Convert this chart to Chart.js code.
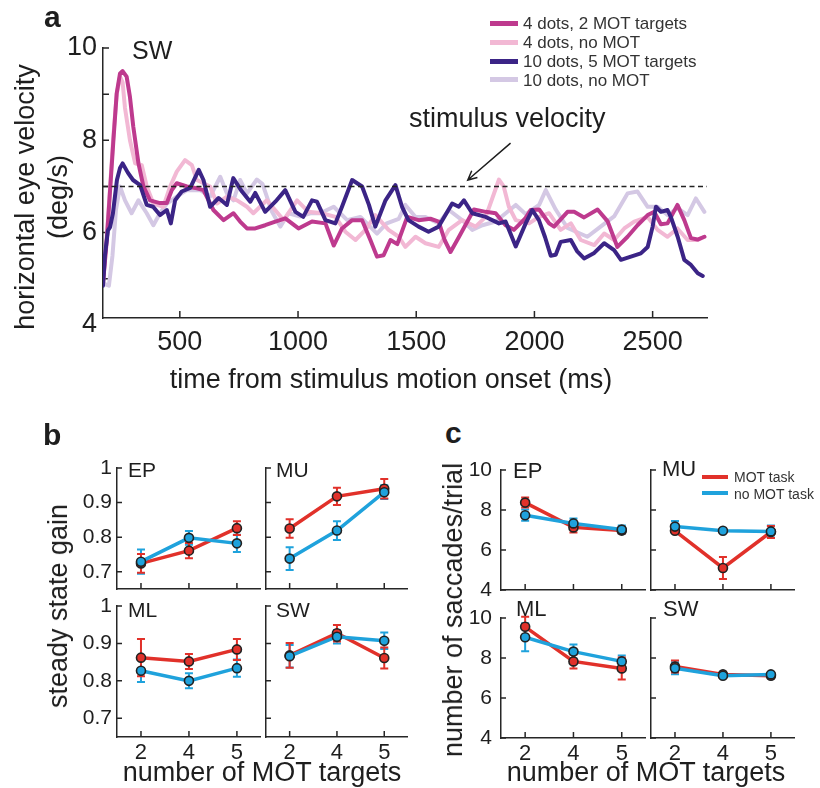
<!DOCTYPE html>
<html>
<head>
<meta charset="utf-8">
<script src="https://cdn.jsdelivr.net/npm/chart.js@4.4.1/dist/chart.umd.min.js"></script>
<style>
  html, body { margin: 0; padding: 0; background: #fff; }
  #fig { position: relative; width: 820px; height: 788px; overflow: hidden;
         font-family: "Liberation Sans", Arial, Helvetica, sans-serif; color: #1e1e1e; }
  #fig canvas { position: absolute; }
  .t { position: absolute; white-space: pre; line-height: 1; }
  .sw { position: absolute; }
</style>
</head>
<body>
<div id="fig"></div>
<script>
// ---- panel a: horizontal eye velocity traces, subject SW (time ms, deg/s) ----
const T_MIN = 175, T_MAX = 2730;
const STIM_VELOCITY = 7;
const timeTicks = [500, 1000, 1500, 2000, 2500];
const velTicks = [4, 5, 6, 7, 8, 9, 10];

const trace4dots2MOT = [[175,4.9],[191,5.84],[205,6.92],[219,8.0],[233,9.02],[247,9.45],[258,9.5],[275,9.38],[289,8.94],[303,8.3],[325,7.5],[346,7.0],[374,6.7],[416,6.64],[445,6.64],[466,6.92],[487,7.07],[530,7.0],[572,6.96],[600,6.92],[642,6.49],[685,6.27],[727,6.42],[755,6.24],[784,6.09],[819,6.09],[861,6.16],[904,6.24],[946,6.31],[1002,6.09],[1059,6.24],[1116,6.2],[1151,5.72],[1186,6.09],[1229,6.27],[1271,6.27],[1306,5.84],[1334,5.48],[1362,5.51],[1391,5.84],[1420,5.75],[1462,6.34],[1510,6.27],[1560,6.3],[1595,6.24],[1620,5.84],[1645,5.58],[1680,5.9],[1744,6.5],[1794,6.45],[1836,6.42],[1878,6.16],[1913,6.06],[1960,6.3],[1984,6.49],[2020,6.5],[2062,6.2],[2083,6.13],[2140,6.45],[2168,6.45],[2210,6.33],[2267,6.5],[2309,6.25],[2351,5.69],[2394,5.91],[2436,6.16],[2479,6.38],[2507,6.45],[2535,6.18],[2563,6.2],[2605,6.6],[2634,6.27],[2662,5.88],[2690,5.85],[2719,5.91]];

const trace4dotsNoMOT = [[175,4.9],[191,5.9],[205,7.0],[219,8.1],[233,9.0],[247,9.38],[258,9.25],[268,8.7],[289,8.0],[311,7.5],[339,7.46],[360,7.0],[388,6.63],[430,6.56],[459,7.0],[487,7.32],[522,7.57],[551,7.46],[572,7.14],[628,7.0],[657,6.63],[699,6.78],[742,6.7],[784,6.56],[811,6.42],[868,6.7],[939,6.27],[996,6.7],[1044,6.45],[1101,6.42],[1158,6.34],[1200,6.02],[1243,5.84],[1285,6.06],[1327,6.38],[1383,6.06],[1426,5.91],[1454,5.69],[1497,5.91],[1539,5.77],[1595,5.69],[1638,6.06],[1694,6.27],[1751,6.13],[1794,6.34],[1850,7.15],[1870,7.0],[1892,6.56],[1921,6.27],[1977,6.2],[2020,6.34],[2062,6.42],[2111,6.06],[2154,6.2],[2196,5.84],[2253,5.73],[2295,5.98],[2337,5.84],[2380,6.09],[2422,6.24],[2479,6.34],[2521,6.06],[2563,5.91],[2605,6.09],[2648,5.84],[2691,5.84],[2719,5.91]];

const trace10dots5MOT = [[175,4.85],[183,5.5],[196,6.05],[205,6.12],[217,6.42],[234,7.14],[247,7.4],[258,7.5],[280,7.3],[302,7.14],[332,7.03],[360,6.6],[387,6.56],[416,6.38],[445,6.49],[462,6.2],[480,6.7],[508,6.89],[544,6.97],[580,7.36],[600,7.14],[628,6.56],[664,6.75],[699,6.6],[726,7.18],[763,6.89],[798,6.67],[819,6.86],[861,6.45],[904,6.67],[946,6.92],[989,6.45],[1022,6.34],[1059,6.7],[1080,6.67],[1116,6.27],[1158,6.2],[1186,6.56],[1229,7.14],[1271,7.0],[1300,6.6],[1327,6.13],[1370,6.7],[1412,7.03],[1440,6.56],[1467,6.27],[1510,6.13],[1552,6.02],[1595,6.13],[1652,6.63],[1680,6.56],[1702,6.7],[1737,6.42],[1794,6.34],[1850,6.2],[1878,6.24],[1921,5.7],[1963,6.2],[1991,6.49],[2019,6.27],[2045,5.9],[2069,5.5],[2090,5.52],[2111,5.8],[2154,5.84],[2180,5.6],[2210,5.44],[2253,5.56],[2295,5.77],[2337,5.62],[2366,5.41],[2408,5.48],[2450,5.55],[2479,5.69],[2500,6.13],[2514,6.56],[2535,6.45],[2563,6.49],[2577,6.34],[2606,5.91],[2634,5.41],[2662,5.3],[2691,5.12],[2712,5.06]];

const trace10dotsNoMOT = [[175,4.9],[200,4.85],[215,5.5],[230,6.5],[247,7.0],[268,6.7],[296,6.42],[325,6.7],[360,6.42],[388,6.16],[416,6.42],[445,6.63],[487,6.78],[530,6.92],[586,6.92],[628,6.78],[671,7.21],[699,6.85],[727,6.7],[755,7.14],[784,6.85],[826,7.15],[850,7.05],[890,6.45],[925,6.13],[960,6.42],[1010,6.35],[1052,6.42],[1094,6.42],[1151,6.56],[1208,6.27],[1264,6.34],[1334,5.98],[1375,6.2],[1426,6.3],[1454,6.6],[1497,6.34],[1539,6.34],[1595,6.2],[1638,6.49],[1694,6.27],[1737,6.06],[1780,6.16],[1836,6.24],[1921,6.6],[1963,6.4],[2020,6.6],[2048,6.92],[2090,6.5],[2140,6.1],[2224,5.91],[2280,6.13],[2337,6.35],[2394,6.85],[2436,6.89],[2479,6.56],[2521,6.56],[2563,6.38],[2605,6.53],[2648,6.38],[2683,6.74],[2719,6.45]];

// ---- panels b, c: per subject, MOT task vs no MOT task ----
const motTargets = ['2', '4', '5'];
const gainTicks = [0.7, 0.8, 0.9, 1];
const saccTicks = [4, 6, 8, 10];

const gainEP_mot = [0.724, 0.761, 0.826], gainEP_motErr = [0.027, 0.022, 0.02];
const gainEP_no  = [0.729, 0.798, 0.782], gainEP_noErr  = [0.035, 0.02, 0.025];
const gainMU_mot = [0.825, 0.918, 0.94],  gainMU_motErr = [0.027, 0.025, 0.028];
const gainMU_no  = [0.738, 0.819, 0.93],  gainMU_noErr  = [0.033, 0.027, 0.02];
const gainML_mot = [0.862, 0.852, 0.884], gainML_motErr = [0.05, 0.02, 0.028];
const gainML_no  = [0.827, 0.8, 0.834],   gainML_noErr  = [0.03, 0.02, 0.023];
const gainSW_mot = [0.868, 0.927, 0.861], gainSW_motErr = [0.033, 0.022, 0.028];
const gainSW_no  = [0.866, 0.918, 0.907], gainSW_noErr  = [0.03, 0.018, 0.022];

const saccEP_mot = [8.37, 7.13, 6.97], saccEP_motErr = [0.25, 0.25, 0.15];
const saccEP_no  = [7.74, 7.33, 7.02], saccEP_noErr  = [0.28, 0.25, 0.2];
const saccMU_mot = [6.96, 5.1, 6.9],   saccMU_motErr = [0.1, 0.55, 0.3];
const saccMU_no  = [7.17, 6.96, 6.93], saccMU_noErr  = [0.28, 0.08, 0.3];
const saccML_mot = [9.56, 7.83, 7.48], saccML_motErr = [0.5, 0.35, 0.55];
const saccML_no  = [9.04, 8.32, 7.83], saccML_noErr  = [0.7, 0.35, 0.3];
const saccSW_mot = [7.57, 7.18, 7.11], saccSW_motErr = [0.3, 0.13, 0.13];
const saccSW_no  = [7.49, 7.11, 7.18], saccSW_noErr  = [0.3, 0.08, 0.1];

// ---- styling ----
const AXIS = '#262626';
const NAVY = '#3b2486', MAGENTA = '#be3a8e', PINK = '#f2b8d4', LAVENDER = '#d4c8e4';
const RED = '#e1312a', BLUE = '#1fa2dc';

const fig = document.getElementById('fig');
Chart.defaults.font.family = '"Liberation Sans", Arial, Helvetica, sans-serif';
Chart.defaults.color = '#1e1e1e';

// MATLAB-style inward tick marks
const inTicks = {
  id: 'inTicks',
  beforeDatasetsDraw(chart, args, o) {
    const { ctx, chartArea: a } = chart;
    const { x, y } = chart.scales;
    ctx.save();
    ctx.strokeStyle = AXIS;
    ctx.lineWidth = 1.5;
    ctx.beginPath();
    x.ticks.forEach((t, i) => {
      const px = x.getPixelForTick(i);
      if (px < a.left - 0.5 || px > a.right + 0.5) return;
      ctx.moveTo(px, a.bottom);
      ctx.lineTo(px, a.bottom - o.x);
    });
    y.ticks.forEach((t, i) => {
      const py = y.getPixelForTick(i);
      if (py < a.top - 0.5 || py > a.bottom + 0.5) return;
      ctx.moveTo(a.left, py);
      ctx.lineTo(a.left + o.y, py);
    });
    ctx.stroke();
    ctx.restore();
  },
};

// vertical error bars with caps, value +/- err through the y scale
const errBars = {
  id: 'errBars',
  beforeDatasetsDraw(chart) {
    const ctx = chart.ctx, ys = chart.scales.y;
    chart.data.datasets.forEach((ds, di) => {
      if (!ds.errorBars) return;
      const meta = chart.getDatasetMeta(di);
      ctx.save();
      ctx.strokeStyle = ds.borderColor;
      ctx.lineWidth = 2;
      ctx.beginPath();
      meta.data.forEach((pt, i) => {
        const lo = ys.getPixelForValue(ds.data[i] - ds.errorBars[i]);
        const hi = ys.getPixelForValue(ds.data[i] + ds.errorBars[i]);
        ctx.moveTo(pt.x, lo); ctx.lineTo(pt.x, hi);
        ctx.moveTo(pt.x - 4, lo); ctx.lineTo(pt.x + 4, lo);
        ctx.moveTo(pt.x - 4, hi); ctx.lineTo(pt.x + 4, hi);
      });
      ctx.stroke();
      ctx.restore();
    });
  },
};

// annotation arrow in data coordinates
const arrow = {
  id: 'arrow',
  afterDatasetsDraw(chart, args, o) {
    if (!o.from) return;
    const { ctx } = chart;
    const { x, y } = chart.scales;
    const x1 = x.getPixelForValue(o.from[0]), y1 = y.getPixelForValue(o.from[1]);
    const x2 = x.getPixelForValue(o.to[0]), y2 = y.getPixelForValue(o.to[1]);
    const ang = Math.atan2(y2 - y1, x2 - x1), h = 10;
    ctx.save();
    ctx.strokeStyle = '#1e1e1e';
    ctx.lineWidth = 1.5;
    ctx.beginPath();
    ctx.moveTo(x1, y1); ctx.lineTo(x2, y2);
    ctx.moveTo(x2 - h * Math.cos(ang - 0.45), y2 - h * Math.sin(ang - 0.45));
    ctx.lineTo(x2, y2);
    ctx.lineTo(x2 - h * Math.cos(ang + 0.45), y2 - h * Math.sin(ang + 0.45));
    ctx.stroke();
    ctx.restore();
  },
};

// canvas placed so that the chart area lands on [l, t, r, b]
function addChart(box, cfg) {
  const [l, t, r, b] = box.area;
  const c = document.createElement('canvas');
  c.width = r - l + box.yw + box.pr;
  c.height = b - t + box.pt + box.xh;
  c.style.left = (l - box.yw) + 'px';
  c.style.top = (t - box.pt) + 'px';
  fig.appendChild(c);
  const o = cfg.options;
  o.responsive = false;
  o.animation = false;
  o.events = [];
  o.layout = { padding: { left: 0, top: box.pt, right: box.pr, bottom: 0 } };
  o.scales.x.afterFit = (s) => { s.height = box.xh; s.paddingLeft = 0; s.paddingRight = 0; };
  o.scales.y.afterFit = (s) => { s.width = box.yw; s.paddingTop = 0; s.paddingBottom = 0; };
  cfg.plugins = [inTicks, errBars, arrow];
  return new Chart(c, cfg);
}

const fixTicks = (vals) => (s) => { s.ticks = vals.map((v) => ({ value: v })); };
const plainGrid = { display: false, drawTicks: false };
const axisBorder = { display: true, color: AXIS, width: 1.5 };

// ---- panel a ----
const trace = (pairs, color) => ({
  data: pairs.map(([x, y]) => ({ x, y })),
  borderColor: color, borderWidth: 4, pointRadius: 0, tension: 0,
  borderJoinStyle: 'round', borderCapStyle: 'round',
});

addChart({ area: [103, 48, 707, 318], yw: 103, xh: 50, pt: 48, pr: 113 }, {
  type: 'line',
  data: {
    datasets: [
      { data: [{ x: T_MIN, y: STIM_VELOCITY }, { x: T_MAX, y: STIM_VELOCITY }],
        borderColor: '#222', borderWidth: 1.6, borderDash: [5, 3.5], pointRadius: 0 },
      trace(trace10dots5MOT, NAVY),
      trace(trace4dots2MOT, MAGENTA),
      trace(trace4dotsNoMOT, PINK),
      trace(trace10dotsNoMOT, LAVENDER),
    ],
  },
  options: {
    plugins: {
      legend: { display: false }, tooltip: { enabled: false },
      inTicks: { x: 7, y: 6 },
      arrow: { from: [1899, 7.94], to: [1718, 7.14] },
    },
    scales: {
      x: { type: 'linear', min: T_MIN, max: T_MAX, afterBuildTicks: fixTicks(timeTicks),
           ticks: { font: { size: 27 }, padding: 8, maxRotation: 0, autoSkip: false, callback: (v) => String(v) },
           grid: plainGrid, border: axisBorder },
      y: { type: 'linear', min: 4.15, max: 10, afterBuildTicks: fixTicks(velTicks),
           ticks: { font: { size: 27 }, padding: 6, autoSkip: false, callback: (v) => (v % 2 === 0 ? String(v) : '') },
           grid: plainGrid, border: axisBorder },
    },
  },
});

// ---- panels b and c: small multiples ----
function subplot(area, spec) {
  const bottomRow = spec.xLabels;
  addChart({ area, yw: 48, xh: bottomRow ? 36 : 12, pt: 16, pr: 4 }, {
    type: 'line',
    data: {
      labels: motTargets,
      datasets: [
        { data: spec.no, errorBars: spec.noErr, borderColor: BLUE, backgroundColor: BLUE,
          borderWidth: 3.5, pointRadius: 4.5, pointBorderWidth: 1.6, pointBorderColor: '#222',
          pointBackgroundColor: BLUE, tension: 0 },
        { data: spec.mot, errorBars: spec.motErr, borderColor: RED, backgroundColor: RED,
          borderWidth: 3.5, pointRadius: 4.5, pointBorderWidth: 1.6, pointBorderColor: '#222',
          pointBackgroundColor: RED, tension: 0 },
      ],
    },
    options: {
      plugins: { legend: { display: false }, tooltip: { enabled: false }, inTicks: { x: 6, y: 5 } },
      scales: {
        x: { type: 'category', offset: true,
             ticks: { display: bottomRow, font: { size: 22 }, padding: 3, maxRotation: 0, autoSkip: false },
             grid: plainGrid, border: axisBorder },
        y: { type: 'linear', min: spec.min, max: spec.max, afterBuildTicks: fixTicks(spec.ticks),
             ticks: { display: spec.yLabels, font: { size: 21 }, padding: spec.pad, autoSkip: false,
                      callback: (v) => String(+v.toFixed(2)) },
             grid: plainGrid, border: axisBorder },
      },
    },
  });
}

const gainAxis = { min: 0.65, max: 1.0, ticks: gainTicks, pad: 5 };
const saccAxis = { min: 4, max: 10, ticks: saccTicks, pad: 9 };

subplot([117, 468, 263, 589], { ...gainAxis, mot: gainEP_mot, motErr: gainEP_motErr, no: gainEP_no, noErr: gainEP_noErr, yLabels: true, xLabels: false });
subplot([266, 468, 410, 589], { ...gainAxis, mot: gainMU_mot, motErr: gainMU_motErr, no: gainMU_no, noErr: gainMU_noErr, yLabels: false, xLabels: false });
subplot([117, 606, 263, 737], { ...gainAxis, mot: gainML_mot, motErr: gainML_motErr, no: gainML_no, noErr: gainML_noErr, yLabels: true, xLabels: true });
subplot([266, 606, 410, 737], { ...gainAxis, mot: gainSW_mot, motErr: gainSW_motErr, no: gainSW_no, noErr: gainSW_noErr, yLabels: false, xLabels: true });

subplot([501, 470, 648, 590], { ...saccAxis, mot: saccEP_mot, motErr: saccEP_motErr, no: saccEP_no, noErr: saccEP_noErr, yLabels: true, xLabels: false });
subplot([651, 470, 797, 590], { ...saccAxis, mot: saccMU_mot, motErr: saccMU_motErr, no: saccMU_no, noErr: saccMU_noErr, yLabels: false, xLabels: false });
subplot([501, 618, 648, 738], { ...saccAxis, mot: saccML_mot, motErr: saccML_motErr, no: saccML_no, noErr: saccML_noErr, yLabels: true, xLabels: true });
subplot([651, 618, 797, 738], { ...saccAxis, mot: saccSW_mot, motErr: saccSW_motErr, no: saccSW_no, noErr: saccSW_noErr, yLabels: false, xLabels: true });

// ---- text: labels, titles, legends ----
function text(s, x, base, size, opt = {}) {
  const d = document.createElement('div');
  d.className = 't';
  d.textContent = s;
  d.style.fontSize = size + 'px';
  d.style.left = x + 'px';
  d.style.top = (base - 0.8465 * size) + 'px';
  if (opt.bold) d.style.fontWeight = 'bold';
  if (opt.center) d.style.transform = 'translateX(-50%)';
  if (opt.color) d.style.color = opt.color;
  fig.appendChild(d);
}
function vtext(lines, cx, cy, size, lh) {
  const d = document.createElement('div');
  d.className = 't';
  d.textContent = lines.join('\n');
  d.style.cssText += `font-size:${size}px;line-height:${lh}px;text-align:center;left:${cx}px;top:${cy}px;` +
    'transform:translate(-50%,-50%) rotate(-90deg);';
  fig.appendChild(d);
}
function swatch(x, cy, w, h, color) {
  const d = document.createElement('div');
  d.className = 'sw';
  d.style.cssText += `left:${x}px;top:${cy - h / 2}px;width:${w}px;height:${h}px;background:${color};`;
  fig.appendChild(d);
}

text('a', 44, 27, 30, { bold: true });
text('SW', 132, 59, 25);
text('stimulus velocity', 409, 128, 27);
text('time from stimulus motion onset (ms)', 391, 389, 27, { center: true });
vtext(['horizontal eye velocity', '(deg/s)'], 42, 197, 27, 33);

const legendA = [
  ['4 dots, 2 MOT targets', MAGENTA],
  ['4 dots, no MOT', PINK],
  ['10 dots, 5 MOT targets', NAVY],
  ['10 dots, no MOT', LAVENDER],
];
legendA.forEach(([label, color], i) => {
  const cy = 23.5 + i * 18.8;
  swatch(490, cy, 28, 5, color);
  text(label, 523, cy + 6, 17, { color: '#333' });
});

text('b', 43, 445, 30, { bold: true });
vtext(['steady state gain'], 58, 606, 27, 30);
text('number of MOT targets', 262, 782, 27, { center: true });
text('EP', 128, 477, 21); text('MU', 276, 477, 21);
text('ML', 128, 617, 21); text('SW', 276, 617, 21);

text('c', 445, 443, 30, { bold: true });
vtext(['number of saccades/trial'], 453, 610, 27, 30);
text('number of MOT targets', 646, 782, 27, { center: true });
text('EP', 513, 479, 22); text('MU', 662, 477, 22);
text('ML', 516, 617, 22); text('SW', 663, 617, 22);

swatch(702, 476.7, 26, 4, RED);
swatch(702, 493.3, 26, 4, BLUE);
text('MOT task', 734, 481.7, 14, { color: '#333' });
text('no MOT task', 734, 498.5, 14, { color: '#333' });
</script>
</body>
</html>
